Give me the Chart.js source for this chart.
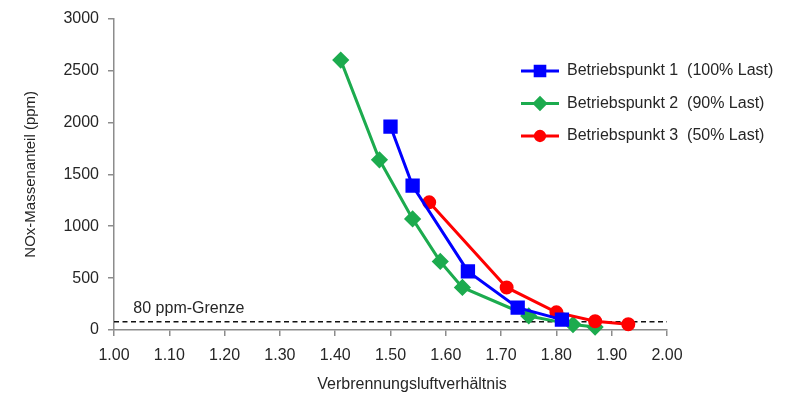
<!DOCTYPE html>
<html>
<head>
<meta charset="utf-8">
<script src="https://cdn.jsdelivr.net/npm/chart.js@4.4.1/dist/chart.umd.min.js"></script>
<style>
  html, body { margin: 0; padding: 0; background: #fff; }
  #wrap { width: 787px; height: 401px; position: relative; }
</style>
</head>
<body>
<div id="wrap"><canvas id="chart-nox"></canvas></div>
<script>
// Luftverhaeltnis (x) und NOx in ppm (y) je Betriebspunkt
const bp1Lambda = [1.50, 1.54, 1.64, 1.73, 1.81];
const bp1Nox    = [1960, 1390, 565, 215, 100];

const bp2Lambda = [1.41, 1.48, 1.54, 1.59, 1.63, 1.75, 1.83, 1.87];
const bp2Nox    = [2600, 1640, 1070, 660, 410, 135, 52, 28];

const bp3Lambda = [1.57, 1.71, 1.80, 1.87, 1.93];
const bp3Nox    = [1230, 410, 170, 85, 55];

const seriesNames = ['Betriebspunkt 1  (100% Last)', 'Betriebspunkt 2  (90% Last)', 'Betriebspunkt 3  (50% Last)'];

const limitValue = 80;
const limitLabel = '80 ppm-Grenze';
const xTitle = 'Verbrennungsluftverhältnis';
const yTitle = 'NOx-Massenanteil (ppm)';

const toPoints = (xs, ys) => xs.map((x, i) => ({ x: x, y: ys[i] }));

const fontFam = '"Liberation Sans", Arial, sans-serif';
const textCol = '#262626';
const axisCol = '#8c8c8c';

// legende + beschriftungen selbst zeichnen
const extrasPlugin = {
  id: 'extras',
  afterDraw(chart) {
    const ctx = chart.ctx;
    const xs = chart.scales.x, ys = chart.scales.y;
    ctx.save();
    ctx.font = '16px ' + fontFam;
    ctx.fillStyle = textCol;

    // grenzwert text
    ctx.textAlign = 'left';
    ctx.textBaseline = 'alphabetic';
    ctx.fillText(limitLabel, xs.getPixelForValue(1.035), ys.getPixelForValue(limitValue) - 9);

    // x achsentitel
    ctx.textAlign = 'center';
    ctx.textBaseline = 'middle';
    ctx.fillText(xTitle, 412, 385);

    // legende
    const lx = 521, rowY = [71, 103.5, 136];
    [0, 1, 2].forEach(i => {
      const ds = chart.data.datasets[i];
      const y = rowY[i];
      ctx.strokeStyle = ds.borderColor;
      ctx.lineWidth = 3;
      ctx.beginPath();
      ctx.moveTo(lx, y);
      ctx.lineTo(lx + 38, y);
      ctx.stroke();
      ctx.fillStyle = ds.backgroundColor;
      Chart.helpers.drawPoint(ctx, {
        pointStyle: ds.pointStyle,
        radius: ds.pointRadius * 0.85,
        rotation: 0,
        borderWidth: 1
      }, lx + 19, y);
      ctx.fill();
      ctx.fillStyle = textCol;
      ctx.textAlign = 'left';
      ctx.fillText(seriesNames[i], lx + 46, y);
    });
    ctx.restore();
  }
};

const ctx_nox = document.getElementById('chart-nox');

new Chart(ctx_nox, {
  type: 'line',
  data: {
    datasets: [
      {
        label: seriesNames[0],
        data: toPoints(bp1Lambda, bp1Nox),
        borderColor: '#0000ff',
        backgroundColor: '#0000ff',
        borderWidth: 3,
        pointStyle: 'rect',
        pointRadius: 8,
        pointHoverRadius: 8,
        clip: false,
        order: 1
      },
      {
        label: seriesNames[1],
        data: toPoints(bp2Lambda, bp2Nox),
        borderColor: '#1cab4e',
        backgroundColor: '#1cab4e',
        borderWidth: 3,
        pointStyle: 'rectRot',
        pointRadius: 6.5,
        pointHoverRadius: 6.5,
        clip: false,
        order: 3
      },
      {
        label: seriesNames[2],
        data: toPoints(bp3Lambda, bp3Nox),
        borderColor: '#ff0000',
        backgroundColor: '#ff0000',
        borderWidth: 3,
        pointStyle: 'circle',
        pointRadius: 5.5,
        pointHoverRadius: 5.5,
        clip: false,
        order: 2
      },
      {
        label: 'limit',
        data: [{ x: 1.0, y: limitValue }, { x: 2.0, y: limitValue }],
        borderColor: '#111',
        borderWidth: 1.5,
        borderDash: [5, 3.5],
        pointRadius: 0,
        order: 10
      }
    ]
  },
  options: {
    responsive: true,
    maintainAspectRatio: false,
    animation: false,
    layout: { padding: { left: 12, right: 120, top: 14, bottom: 0 } },
    plugins: {
      legend: { display: false },
      tooltip: { enabled: false }
    },
    scales: {
      x: {
        type: 'linear',
        min: 1.0,
        max: 2.0,
        afterFit: s => { s.height = 71; },
        ticks: {
          stepSize: 0.1,
          padding: 10,
          color: textCol,
          font: { family: fontFam, size: 16 },
          callback: v => v.toFixed(2)
        },
        grid: { drawOnChartArea: false, drawTicks: true, tickLength: 6, color: axisCol, lineWidth: 1.5 },
        border: { color: axisCol, width: 1.5 }
      },
      y: {
        min: 0,
        max: 3000,
        afterFit: s => { s.width = 102; },
        ticks: {
          stepSize: 500,
          padding: 9,
          color: textCol,
          font: { family: fontFam, size: 16 },
          callback: v => String(v)
        },
        grid: { drawOnChartArea: false, drawTicks: true, tickLength: 6, color: axisCol, lineWidth: 1.5 },
        border: { color: axisCol, width: 1.5 },
        title: {
          display: true,
          text: yTitle,
          color: textCol,
          font: { family: fontFam, size: 15 },
          padding: { top: 10, bottom: 0 }
        }
      }
    }
  },
  plugins: [extrasPlugin]
});
</script>
</body>
</html>
